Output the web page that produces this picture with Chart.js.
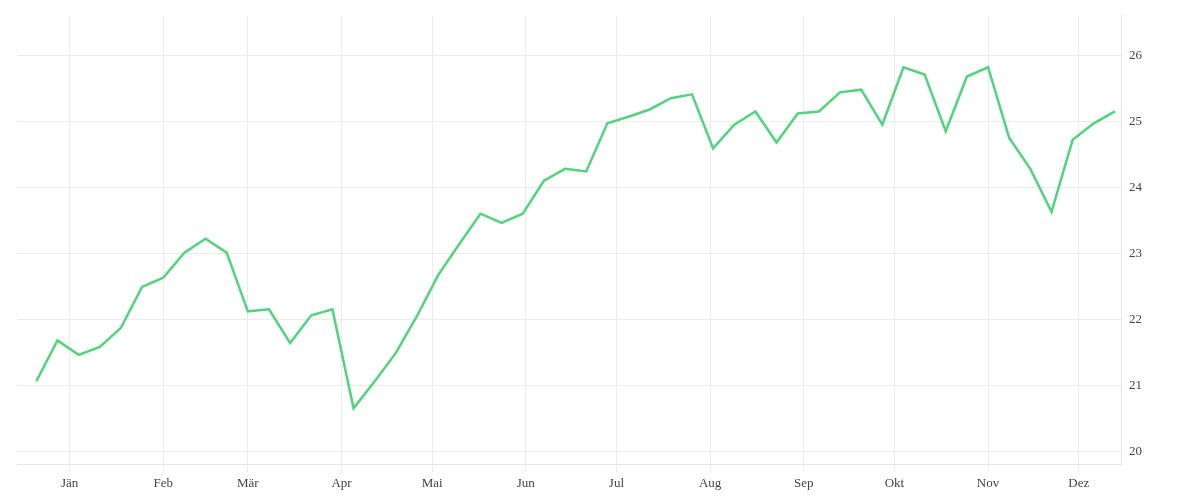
<!DOCTYPE html>
<html>
<head>
<meta charset="utf-8">
<script src="https://cdn.jsdelivr.net/npm/chart.js@4/dist/chart.umd.min.js"></script>
<style>
  html, body { margin: 0; padding: 0; background: #fff; }
  #wrap { width: 1200px; height: 500px; }
</style>
</head>
<body>
<div id="wrap"><canvas id="chart"></canvas></div>
<script>
// month labels and their day-of-year start
var monthLabels = ['Jän', 'Feb', 'Mär', 'Apr', 'Mai', 'Jun', 'Jul', 'Aug', 'Sep', 'Okt', 'Nov', 'Dez'];
var monthStarts = [0, 31, 59, 90, 120, 151, 181, 212, 243, 273, 304, 334];

// weekly values, first week starts 11 days before Jan 1
var firstDay = -11;
var values = [
    21.06, 21.68, 21.46, 21.58, 21.87, 22.49, 22.63, 23.01, 23.22, 23.01,
    22.12, 22.15, 21.64, 22.06, 22.15, 20.65, 21.06, 21.49, 22.05, 22.67,
    23.14, 23.60, 23.46, 23.60, 24.10, 24.28, 24.24, 24.97, 25.07, 25.18,
    25.35, 25.41, 24.59, 24.95, 25.15, 24.68, 25.12, 25.15, 25.44, 25.48,
    24.95, 25.82, 25.71, 24.85, 25.68, 25.82, 24.75, 24.28, 23.63, 24.72,
    24.97, 25.15
];

var points = [];
for (var i = 0; i < values.length; i++) {
    points.push({ x: firstDay + i * 7, y: values[i] });
}

var tickFont = { family: 'Liberation Serif', size: 13 };

new Chart(document.getElementById('chart'), {
    type: 'line',
    data: {
        datasets: [{
            data: points,
            borderColor: '#52d47e',
            borderWidth: 2.5,
            pointRadius: 0,
            tension: 0,
            fill: false
        }]
    },
    options: {
        responsive: true,
        maintainAspectRatio: false,
        animation: false,
        layout: { padding: { left: 17, right: 50, top: 10, bottom: 6 } },
        plugins: { legend: { display: false }, tooltip: { enabled: false } },
        scales: {
            x: {
                type: 'linear',
                min: -17.4,
                max: 348,
                afterBuildTicks: function (axis) {
                    axis.ticks = monthStarts.map(function (d) { return { value: d }; });
                },
                ticks: {
                    color: '#444',
                    font: tickFont,
                    maxRotation: 0,
                    autoSkip: false,
                    callback: function (v) {
                        var k = monthStarts.indexOf(v);
                        return k >= 0 ? monthLabels[k] : '';
                    }
                },
                grid: { color: '#ececec', drawTicks: true, tickLength: 8 },
                border: { display: true, color: '#e6e6e6' }
            },
            y: {
                position: 'right',
                min: 19.8,
                max: 26.6,
                afterBuildTicks: function (axis) {
                    axis.ticks = [20, 21, 22, 23, 24, 25, 26].map(function (v) { return { value: v }; });
                },
                ticks: { color: '#444', font: tickFont, padding: 8 },
                grid: { color: '#ececec', drawTicks: false },
                border: { display: true, color: '#e6e6e6' }
            }
        }
    }
});
</script>
</body>
</html>
